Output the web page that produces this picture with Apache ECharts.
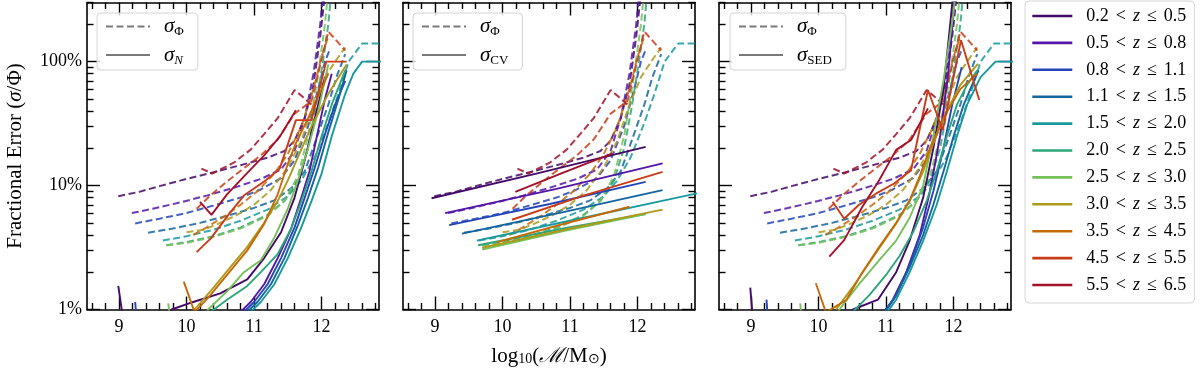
<!DOCTYPE html>
<html>
<head>
<meta charset="utf-8">
<script src="https://cdn.jsdelivr.net/npm/echarts@6/dist/echarts.min.js"></script>
<style>
html, body { margin: 0; padding: 0; background: #fff; }
#chart { width: 1200px; height: 376px; }
</style>
</head>
<body>
<div id="chart"></div>
<script>
// redshift bins and their colours
var zBins = ['0.2 < z ≤ 0.5', '0.5 < z ≤ 0.8', '0.8 < z ≤ 1.1', '1.1 < z ≤ 1.5', '1.5 < z ≤ 2.0', '2.0 < z ≤ 2.5',
             '2.5 < z ≤ 3.0', '3.0 < z ≤ 3.5', '3.5 < z ≤ 4.5', '4.5 < z ≤ 5.5', '5.5 < z ≤ 6.5'];
var zColors = ['#440a68', '#5416a8', '#2446b8', '#14659e', '#17999e', '#2ba67a',
               '#76c05a', '#ab9a1c', '#c66a08', '#c93c17', '#a3122a'];

// tick values
var xMajor = [9, 10, 11, 12];
var xMinor = [8.6, 8.8, 9.2, 9.4, 9.6, 9.8, 10.2, 10.4, 10.6, 10.8, 11.2, 11.4, 11.6, 11.8, 12.2, 12.4, 12.6, 12.8];
var yMajor = [1, 10, 100];
var yMinor = [2, 3, 4, 5, 6, 7, 8, 9, 20, 30, 40, 50, 60, 70, 80, 90, 200, 300];

// total error sigma_Phi (%), [log mass, error], one list per z bin (same in all panels)
var sigmaPhi = [
  [[8.99,8.2],[9.3,8.9],[9.6,9.9],[10.0,11.3],[10.4,12.8],[10.8,14.6],[11.2,16.8],[11.45,19],[11.6,23],[11.75,35],[11.88,65],[11.98,160],[12.08,500]],
  [[9.19,6.0],[9.5,6.5],[9.9,7.3],[10.3,8.3],[10.7,9.6],[11.1,11.3],[11.4,13.5],[11.6,19],[11.75,35],[11.88,80],[11.98,200],[12.05,500]],
  [[9.24,4.95],[9.6,5.4],[10.0,6.0],[10.4,6.9],[10.8,8.0],[11.1,9.3],[11.4,11.5],[11.6,16],[11.8,30],[11.95,60],[12.05,100],[12.12,125]],
  [[9.43,4.16],[9.8,4.5],[10.2,5.0],[10.6,5.7],[11.0,6.6],[11.3,7.6],[11.55,9.5],[11.75,13],[11.9,22],[12.1,45],[12.22,75],[12.35,115]],
  [[9.65,3.6],[10.0,3.9],[10.4,4.4],[10.8,5.2],[11.2,6.4],[11.5,8.2],[11.7,11],[11.9,17],[12.1,32],[12.25,55],[12.4,100],[12.6,140],[12.9,140]],
  [[9.7,3.3],[10.0,3.5],[10.4,3.9],[10.8,4.6],[11.2,5.8],[11.45,7.5],[11.65,11],[11.8,20],[11.92,45],[12.02,100],[12.1,200],[12.15,400]],
  [[9.7,3.3],[10.0,3.45],[10.4,3.85],[10.8,4.5],[11.2,5.7],[11.45,7.5],[11.65,12],[11.8,25],[11.95,80],[12.05,200],[12.12,500]],
  [[10.0,4.2],[10.25,4.4],[10.5,5.0],[10.75,5.8],[11.0,7.0],[11.25,9.2],[11.5,14],[11.7,23],[11.88,45],[12.05,75],[12.2,100],[12.35,130]],
  [[10.1,4.0],[10.3,4.6],[10.55,5.6],[10.8,7.0],[11.05,9.0],[11.3,12.5],[11.5,18],[11.7,30],[11.88,60],[12.0,110],[12.1,160]],
  [[10.15,6.5],[10.35,8.3],[10.6,10.8],[10.85,13.8],[11.1,17.5],[11.35,23.5],[11.6,38],[11.85,48],[12.1,175],[12.35,123]],
  [[10.22,13.7],[10.38,12.5],[10.7,15.3],[10.95,19.5],[11.15,26],[11.35,35],[11.6,59],[11.72,52],[11.85,45]]
];

// Poisson error sigma_N (%)
var sigmaN = [
  [[8.99,1.55],[9.1,0.6],[9.5,0.5],[9.78,1.0],[10.1,1.15],[10.5,1.35],[10.9,1.75],[11.15,2.6],[11.4,4.2],[11.6,8],[11.75,16],[11.9,35],[12.05,75]],
  [[10.75,0.9],[10.95,1.15],[11.15,1.6],[11.35,2.6],[11.55,4.5],[11.7,8],[11.82,13],[11.95,28],[12.05,50],[12.15,80]],
  [[9.24,1.15],[9.3,0.5],[10.5,0.5],[10.8,0.9],[11.0,1.15],[11.2,1.6],[11.4,2.6],[11.6,4.6],[11.75,8],[11.9,14],[12.05,26],[12.2,45],[12.35,70]],
  [[10.85,0.9],[11.05,1.15],[11.25,1.6],[11.45,2.6],[11.65,4.8],[11.8,8],[11.95,14],[12.1,27],[12.25,50],[12.37,85]],
  [[10.9,0.9],[11.1,1.15],[11.3,1.6],[11.5,2.6],[11.7,4.6],[11.85,7.5],[12.0,12.5],[12.15,25],[12.35,55],[12.47,80],[12.6,100],[12.9,100]],
  [[10.35,0.95],[10.6,1.2],[10.9,1.55],[11.1,2.0],[11.35,2.8],[11.55,4.5],[11.7,7.5],[11.85,13],[12.0,25],[12.15,45],[12.35,85]],
  [[9.73,1.12],[9.8,0.5],[10.1,0.6],[10.32,1.0],[10.6,1.4],[10.85,2.0],[11.1,2.5],[11.3,3.8],[11.5,6.5],[11.65,11],[11.8,20],[11.95,40],[12.1,95]],
  [[10.12,1.0],[10.4,1.5],[10.65,2.2],[10.9,3.2],[11.15,5.0],[11.35,7.5],[11.5,11],[11.65,17],[11.85,30],[12.1,55],[12.37,95]],
  [[9.96,1.68],[10.12,0.95],[10.35,1.3],[10.6,1.9],[10.9,3.0],[11.15,4.9],[11.35,8.5],[11.5,15],[11.62,22],[11.8,35],[12.0,60],[12.1,80]],
  [[10.15,2.9],[10.36,3.75],[10.64,6.0],[10.86,8.4],[11.18,11.1],[11.38,13.7],[11.62,33.7],[11.85,33.7],[12.07,100],[12.37,100]],
  [[10.2,7.4],[10.37,5.8],[10.6,8.5],[10.89,12.5],[11.15,17.5],[11.38,24.8],[11.62,40.6]]
];

// cosmic variance sigma_CV (%)
var sigmaCV = [
  [[8.95,7.9],[10.5,12.5],[12.12,20.5]],
  [[9.15,6.0],[10.8,9.4],[12.37,15.1]],
  [[9.21,4.8],[10.7,7.1],[12.12,10.7]],
  [[9.4,4.1],[10.9,6.1],[12.37,9.2]],
  [[9.62,3.6],[11.2,5.5],[12.9,8.7]],
  [[9.64,3.3],[10.9,4.5],[12.12,5.9]],
  [[9.7,3.05],[10.9,4.3],[12.12,5.9]],
  [[9.7,3.15],[11.0,4.5],[12.37,6.4]],
  [[9.92,3.5],[10.9,4.9],[11.88,6.75]],
  [[10.14,5.3],[11.2,8.3],[12.37,12.9]],
  [[10.19,8.9],[10.9,12.7],[11.63,18.2]]
];

// SED fitting error sigma_SED (%)
var sigmaSED = [
  [[8.99,1.5],[9.05,0.6],[9.5,0.5],[10.3,0.6],[10.51,1.0],[10.88,1.2],[11.15,2.0],[11.35,3.6],[11.55,8],[11.7,20],[11.85,60],[11.95,200],[12.02,500]],
  [[10.9,0.85],[11.1,1.2],[11.3,2.0],[11.5,4.0],[11.65,9],[11.8,25],[11.92,80],[12.0,250],[12.05,500]],
  [[9.23,1.2],[9.28,0.5],[10.6,0.5],[10.95,0.9],[11.15,1.3],[11.35,2.3],[11.55,4.6],[11.7,9],[11.85,20],[11.98,45],[12.12,90]],
  [[10.95,0.9],[11.15,1.3],[11.35,2.2],[11.55,4.0],[11.7,7],[11.85,13],[12.0,25],[12.15,45],[12.3,70],[12.37,85]],
  [[10.95,0.85],[11.15,1.2],[11.35,2.0],[11.55,3.6],[11.75,7],[11.9,13],[12.05,25],[12.2,45],[12.4,75],[12.62,100],[12.9,100]],
  [[10.5,0.95],[10.75,1.3],[11.0,1.9],[11.2,2.7],[11.4,4.2],[11.6,7.5],[11.75,13],[11.9,25],[12.05,45],[12.2,65],[12.35,85]],
  [[9.73,1.12],[9.78,0.5],[10.1,0.6],[10.31,1.0],[10.6,1.6],[10.9,2.5],[11.15,3.6],[11.35,5.5],[11.55,10],[11.7,25],[11.85,70],[12.0,250],[12.05,500]],
  [[10.26,1.0],[10.5,1.5],[10.8,2.6],[11.15,4.95],[11.35,7.5],[11.55,13],[11.7,22],[11.9,40],[12.1,65],[12.36,96]],
  [[9.96,1.63],[10.11,0.95],[10.41,1.19],[10.65,2.0],[10.9,3.2],[11.15,5.0],[11.35,7.6],[11.5,12],[11.65,20],[11.85,35],[12.1,60],[12.35,80]],
  [[10.21,7.4],[10.38,5.4],[10.6,7.0],[10.85,8.6],[11.12,10.4],[11.37,13.3],[11.62,59],[11.84,28],[12.11,149],[12.38,49]],
  [[10.16,2.67],[10.38,3.63],[10.65,6.75],[10.9,11.1],[11.15,19.4],[11.37,23.3],[11.62,42]]
];

var panelData = [sigmaN, sigmaCV, sigmaSED];
var panelKeys = ['N', 'CV', 'SED'];

var FONT = 'Liberation Serif';
var xMin = 8.527, xMax = 12.85;
var gridLeft = [87, 403, 719];

var myChart = echarts.init(document.getElementById('chart'));

var grids = [], xAxes = [], yAxes = [];
var tickStyle = { color: '#000', width: 1.4 };
var frameStyle = { color: '#000', width: 1.6 };

for (var p = 0; p < 3; p++) {
    grids.push({ left: gridLeft[p], width: 292, top: 2.5, height: 307 });
    [['bottom', xMajor, 13, true], ['bottom', xMinor, 6.5, false], ['top', xMajor, 13, true], ['top', xMinor, 6.5, false]].forEach(function (a, k) {
        xAxes.push({
            gridIndex: p, type: 'value', position: a[0], min: xMin, max: xMax,
            splitLine: { show: false },
            axisLine: { show: a[3], onZero: false, lineStyle: frameStyle },
            axisTick: { inside: true, length: a[2], customValues: a[1], lineStyle: tickStyle },
            axisLabel: k === 0 ? { customValues: xMajor, margin: 9, color: '#000', fontFamily: FONT, fontSize: 18 } : { show: false },
            name: (k === 0 && p === 1) ? 'log{sub|10}({it|ℳ}/M{sub|⊙})' : '',
            nameLocation: 'middle', nameGap: 36,
            nameTextStyle: { color: '#000', fontFamily: FONT, fontSize: 21,
                rich: { sub: { fontFamily: FONT, fontSize: 14, lineHeight: 14, verticalAlign: 'bottom', color: '#000' },
                        it: { fontFamily: FONT, fontSize: 21, fontStyle: 'italic', color: '#000' } } }
        });
    });
    [['left', yMajor, 13, true], ['left', yMinor, 6.5, false], ['right', yMajor, 13, true], ['right', yMinor, 6.5, false]].forEach(function (a, k) {
        yAxes.push({
            gridIndex: p, type: 'log', logBase: 10, position: a[0], min: 1, max: 300,
            splitLine: { show: false }, minorTick: { show: false },
            axisLine: { show: a[3], onZero: false, lineStyle: frameStyle },
            axisTick: { inside: true, length: a[2], customValues: a[1], lineStyle: tickStyle },
            axisLabel: (k === 0 && p === 0) ? { customValues: yMajor, margin: 5, color: '#000', fontFamily: FONT, fontSize: 18,
                formatter: function (v) { return v + '%'; } } : { show: false },
            name: (k === 0 && p === 0) ? 'Fractional Error ({it|σ}/Φ)' : '',
            nameLocation: 'middle', nameRotate: 90, nameGap: 61,
            nameTextStyle: { color: '#000', fontFamily: FONT, fontSize: 21,
                rich: { it: { fontFamily: FONT, fontSize: 21, fontStyle: 'italic', color: '#000' } } }
        });
    });
}

var series = [];
// solid component lines first (main legend takes its icon from these)
for (var p = 0; p < 3; p++) {
    panelData[p].forEach(function (line, i) {
        series.push({
            name: zBins[i], type: 'line', xAxisIndex: p * 4, yAxisIndex: p * 4,
            data: line, symbol: 'none', clip: true, z: 3,
            lineStyle: { color: zColors[i], width: 1.9 }, itemStyle: { color: zColors[i] }
        });
    });
}
for (var p = 0; p < 3; p++) {
    sigmaPhi.forEach(function (line, i) {
        series.push({
            name: zBins[i], type: 'line', xAxisIndex: p * 4, yAxisIndex: p * 4,
            data: line, symbol: 'none', clip: true, z: 2,
            lineStyle: { color: zColors[i], width: 2, type: [7, 3.5], opacity: 0.85 }, itemStyle: { color: zColors[i] }
        });
    });
}
// grey key entries for the per-panel boxes
[['phi', [7, 3.5]], ['N', 'solid'], ['CV', 'solid'], ['SED', 'solid']].forEach(function (d) {
    series.push({
        name: d[0], type: 'line', xAxisIndex: 0, yAxisIndex: 0, data: [], symbol: 'none',
        lineStyle: { color: '#7a7a7a', width: 2.2, type: d[1] }, itemStyle: { color: '#7a7a7a' }
    });
});

var keyRich = {
    s: { fontFamily: FONT, fontSize: 21, lineHeight: 24, fontStyle: 'italic', color: '#000' },
    b: { fontFamily: FONT, fontSize: 13, lineHeight: 13, verticalAlign: 'bottom', color: '#000' },
    bi: { fontFamily: FONT, fontSize: 13, lineHeight: 13, verticalAlign: 'bottom', fontStyle: 'italic', color: '#000' }
};
function keyLabel(name) {
    if (name === 'phi') return '{s|σ}{b|Φ}';
    if (name === 'N') return '{s|σ}{bi|N}';
    return '{s|σ}{b|' + name + '}';
}
var keyLeft = [97, 413, 730];
var legends = [{
    data: zBins, orient: 'vertical', left: 1025, top: 1,
    itemWidth: 40, itemHeight: 16, itemGap: 8.9,
    padding: [6, 8, 9, 6], borderColor: '#d4d4d4', borderWidth: 1, borderRadius: 4,
    selectedMode: false,
    itemStyle: { opacity: 0 },
    lineStyle: { width: 2.6 },
    formatter: function (name) {
        var parts = name.split(' < z ≤ ');
        return '{t|' + parts[0] + '}{r|<}{i|z}{r|≤}{t|' + parts[1] + '}';
    },
    textStyle: {
        padding: [0, 0, 0, 9], lineHeight: 16,
        rich: {
            t: { fontFamily: FONT, fontSize: 18, lineHeight: 16, color: '#000' },
            r: { fontFamily: FONT, fontSize: 18, lineHeight: 16, color: '#000', padding: [0, 7, 0, 7] },
            i: { fontFamily: FONT, fontSize: 18, lineHeight: 16, color: '#000', fontStyle: 'italic' }
        }
    }
}];
for (var p = 0; p < 3; p++) {
    legends.push({
        data: ['phi', panelKeys[p]], orient: 'vertical', left: keyLeft[p], top: 13,
        itemWidth: 44, itemHeight: 14, itemGap: 6,
        padding: [3, 14, 3, 8], borderColor: '#d4d4d4', borderWidth: 1, borderRadius: 4,
        backgroundColor: 'rgba(255,255,255,0.8)', selectedMode: false,
        itemStyle: { opacity: 0 },
        formatter: keyLabel,
        textStyle: { padding: [0, 0, 0, 9], rich: keyRich }
    });
}

var option = {
    animation: false,
    backgroundColor: '#fff',
    grid: grids,
    xAxis: xAxes,
    yAxis: yAxes,
    legend: legends,
    series: series
};
myChart.setOption(option);
</script>
</body>
</html>
